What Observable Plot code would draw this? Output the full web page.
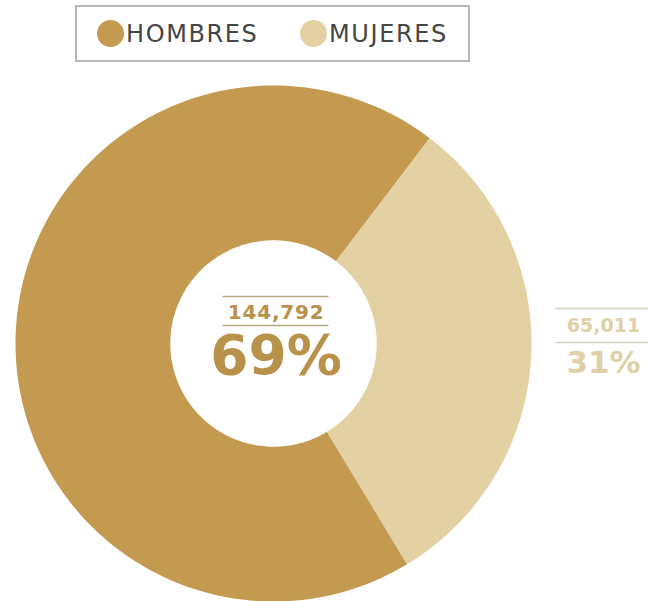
<!DOCTYPE html>
<html><head><meta charset="utf-8">
<script src="https://cdn.jsdelivr.net/npm/d3@7"></script>
<script src="https://cdn.jsdelivr.net/npm/@observablehq/plot@0.6"></script>
<style>
body{margin:0;background:#fff;font-family:"DejaVu Sans",sans-serif;}
#wrap{position:relative;width:648px;height:601px;overflow:hidden;background:#fff}
#legend{position:absolute;left:75px;top:5px;width:391px;height:53px;border:2px solid #b8b8b8;}
.item{position:absolute;top:0;height:53px;display:flex;align-items:center;font-size:24px;color:#454545;letter-spacing:1.6px}
.sw{width:27px;height:27px;border-radius:50%;margin-right:2px;}
#chart{position:absolute;left:0;top:68px;}
#chart g[font-size="20"] text{letter-spacing:0.8px}
</style></head><body>
<div id="wrap"><div id="legend"></div><div id="chart"></div></div>
<script>
const categories = ["HOMBRES", "MUJERES"];
const values = [144792, 65011];
const valueLabels = ["144,792", "65,011"];
const percents = ["69%", "31%"];
const colors = ["#C49A51", "#E3D1A4"];

// legend
const legend = document.getElementById("legend");
const legendLeft = [20, 223];
categories.forEach((c, i) => {
  const it = document.createElement("div");
  it.className = "item";
  it.style.left = legendLeft[i] + "px";
  it.innerHTML = `<span class="sw" style="background:${colors[i]}"></span><span>${c}</span>`;
  legend.appendChild(it);
});

// geometry
const W = 648, H = 533;
const k = 258;          // px per data unit (outer radius)
const inner = 0.4;
const startDeg = 148.8; // clockwise from north
const total = d3.sum(values);
const rad = d => d * Math.PI / 180;

const pts = [];
let cum = 0;
categories.forEach((c, i) => {
  const a0 = startDeg + cum / total * 360;
  const a1 = a0 + values[i] / total * 360;
  cum += values[i];
  const N = 180;
  for (let t = 0; t <= N; t++) {
    const a = rad(a0 + (a1 - a0) * t / N);
    pts.push({cat: c, x: Math.sin(a), y: Math.cos(a)});
  }
  for (let t = N; t >= 0; t--) {
    const a = rad(a0 + (a1 - a0) * t / N);
    pts.push({cat: c, x: inner * Math.sin(a), y: inner * Math.cos(a)});
  }
});

// label anchors (data units)
const anchors = [{x: 0.01, y: 0}, {x: (603 - 273) / k, y: 0}];
const numOff = [-31, -18], pctOff = [13, 20];
const numSize = [20, 19], pctSize = [55, 31];
const textCol = ["#B8914B", "#E0D0A7"];
const ruleCol = ["#B9A77F", "#D9D3C6"];
const ruleOff = [[-47, -18], [-35, -1]];
const ruleHalf = [53, 48];

const labels = [];
const rules = [];
categories.forEach((c, i) => {
  labels.push({x: anchors[i].x, y: anchors[i].y - numOff[i] / k, t: valueLabels[i], s: numSize[i], f: textCol[i]});
  labels.push({x: anchors[i].x, y: anchors[i].y - pctOff[i] / k, t: percents[i], s: pctSize[i], f: textCol[i]});
  ruleOff[i].forEach(o => rules.push({x1: anchors[i].x - ruleHalf[i] / k, x2: anchors[i].x + ruleHalf[i] / k, y: anchors[i].y - o / k, c: ruleCol[i]}));
});

const marks = [
  Plot.line(pts, {x: "x", y: "y", fill: "cat", stroke: "none", curve: "linear"}),
  Plot.ruleY(rules, {y: "y", x1: "x1", x2: "x2", stroke: d => d.c, strokeWidth: 1.6})
];
labels.forEach(l => marks.push(
  Plot.text([l], {x: "x", y: "y", text: "t", fontSize: l.s, fontWeight: 700, fill: l.f, fontFamily: "DejaVu Sans", textAnchor: "middle"})
));

const chart = Plot.plot({
  width: W, height: H,
  marginLeft: 15, marginRight: W - 15 - 2 * k, marginTop: H - 2 * k, marginBottom: 0,
  x: {domain: [-1, 1], axis: null},
  y: {domain: [-1, 1], axis: null},
  color: {domain: categories, range: colors},
  style: {background: "transparent", overflow: "visible"},
  marks
});
document.getElementById("chart").appendChild(chart);
</script>
</body></html>
